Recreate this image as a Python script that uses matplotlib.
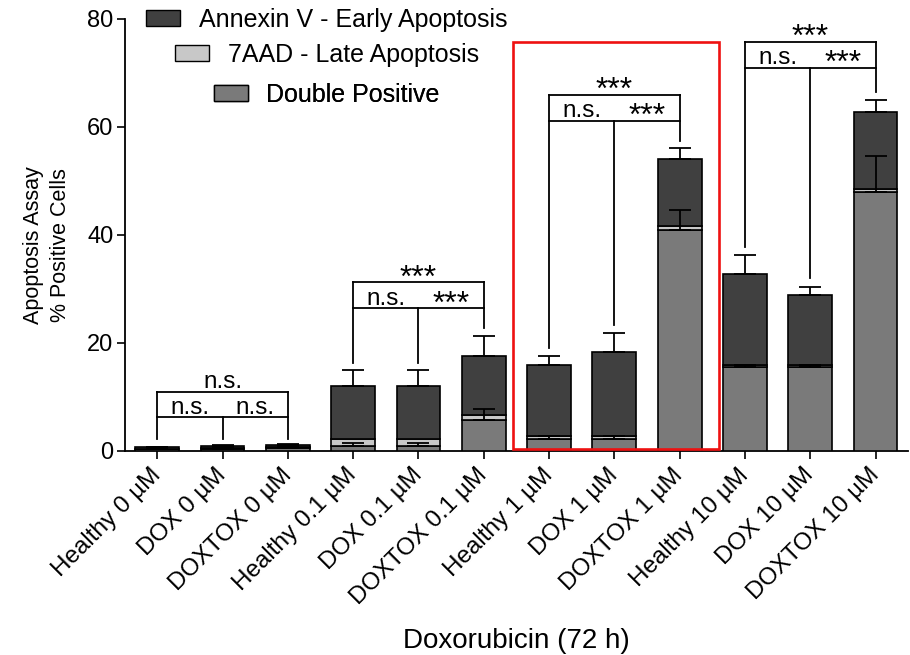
import numpy as np
import matplotlib
matplotlib.use("Agg")
import matplotlib.pyplot as plt
from matplotlib.patches import Patch, Rectangle

plt.rcParams['font.family'] = ['Liberation Sans', 'DejaVu Sans']

# 数据
labels = ["Healthy 0 µM", "DOX 0 µM", "DOXTOX 0 µM",
          "Healthy 0.1 µM", "DOX 0.1 µM", "DOXTOX 0.1 µM",
          "Healthy 1 µM", "DOX 1 µM", "DOXTOX 1 µM",
          "Healthy 10 µM", "DOX 10 µM", "DOXTOX 10 µM"]
double_pos = [0.3, 0.4, 0.5, 0.9, 0.9, 5.7, 2.2, 2.2, 41.0, 15.5, 15.5, 48.0]
late_7aad = [0.1, 0.2, 0.3, 1.3, 1.3, 1.0, 0.6, 0.6, 0.7, 0.4, 0.4, 0.5]
early_annexin = [0.3, 0.3, 0.3, 9.8, 9.8, 10.8, 13.1, 15.6, 12.3, 16.9, 12.9, 14.2]
total_err = [0.1, 0.2, 0.2, 3.0, 3.0, 3.7, 1.6, 3.5, 2.2, 3.5, 1.6, 2.3]
dp_err = [0.1, 0.3, 0.3, 0.6, 0.6, 2.0, 0.6, 0.6, 3.6, 0.5, 0.5, 6.6]

# 显著性括号: 每组三根柱子
bracket_start = [0, 3, 6, 9]
bracket_outer = [11.0, 31.2, 66.0, 75.8]
bracket_inner = [6.2, 26.4, 61.2, 71.0]
bracket_drops = [[2.2, 2.2, 2.2], [16.2, 16.2, 22.7], [19.1, 23.3, 57.4], [37.8, 32.0, 66.5]]
bracket_top_txt = ["n.s.", "***", "***", "***"]
bracket_left_txt = ["n.s.", "n.s.", "n.s.", "n.s."]
bracket_right_txt = ["n.s.", "***", "***", "***"]

c_dark = '#404040'
c_light = '#c8c8c8'
c_mid = '#7a7a7a'

fig = plt.figure(figsize=(9.1, 6.55), dpi=100)
ax = fig.add_axes([0.137, 0.3115, 0.861, 0.6595])

x = np.arange(len(labels))
dp = np.array(double_pos)
la = np.array(late_7aad)
ea = np.array(early_annexin)
w = 0.67
kw = dict(width=w, edgecolor='black', linewidth=1.2, zorder=3)
ax.bar(x, dp, color=c_mid, **kw)
ax.bar(x, la, bottom=dp, color=c_light, **kw)
ax.bar(x, ea, bottom=dp + la, color=c_dark, **kw)

tot = dp + la + ea
z = np.zeros(len(x))
ax.errorbar(x, tot, yerr=[z, total_err], fmt='none', ecolor='black',
            elinewidth=1.3, capsize=8, capthick=1.3, zorder=4)
ax.errorbar(x, dp, yerr=[z, dp_err], fmt='none', ecolor='black',
            elinewidth=1.3, capsize=8, capthick=1.3, zorder=4)

# 画括号和显著性标记
def mark(xx, t, line, above):
    # n.s. 放在线上方, *** 用大号字(星号字形偏高, 基线放在线下)
    if t == "***":
        ax.text(xx, line - 0.8, t, ha='center', va='baseline', fontsize=23)
    else:
        ax.text(xx, line + above, t, ha='center', va='baseline', fontsize=17.5)

for i0, yo, yi, dr, tt, lt, rt in zip(bracket_start, bracket_outer, bracket_inner,
                                      bracket_drops, bracket_top_txt,
                                      bracket_left_txt, bracket_right_txt):
    a, b, c = i0, i0 + 1, i0 + 2
    lk = dict(color='black', lw=1.3, zorder=2)
    ax.plot([a, c], [yo, yo], **lk)
    ax.plot([a, c], [yi, yi], **lk)
    ax.plot([a, a], [yo, dr[0]], **lk)
    ax.plot([c, c], [yo, dr[2]], **lk)
    ax.plot([b, b], [yi, dr[1]], **lk)
    mark(b, tt, yo, 0.7)
    mark((a + b) / 2, lt, yi, 0.6)
    mark((b + c) / 2, rt, yi, 0.6)

# 红框
ax.add_patch(Rectangle((5.44, 0.35), 3.17, 75.35, fill=False, edgecolor='#ee1111',
                       linewidth=1.9, zorder=5, clip_on=False))

ax.set_xlim(-0.5, 11.5)
ax.set_ylim(0, 80)
ax.set_yticks([0, 20, 40, 60, 80])
ax.set_xticks(x)
ax.set_xticklabels(labels, rotation=45, ha='right', va='center',
                   rotation_mode='anchor', fontsize=17.5)
ax.tick_params(axis='y', labelsize=17, length=6, width=1.2, pad=2)
ax.tick_params(axis='x', length=6, width=1.2, pad=9)
for s in ['top', 'right']:
    ax.spines[s].set_visible(False)
for s in ['left', 'bottom']:
    ax.spines[s].set_linewidth(1.3)

ax.set_ylabel("Apoptosis Assay\n% Positive Cells", fontsize=15.5, linespacing=1.4)
ax.yaxis.set_label_coords(-0.068, 0.477)
ax.set_xlabel("Doxorubicin (72 h)", fontsize=20)
ax.xaxis.set_label_coords(0.5, -0.41)

# 图例(三行居中)
leg_txt = ["Annexin V - Early Apoptosis", "7AAD - Late Apoptosis", "Double Positive"]
leg_col = [c_dark, c_light, c_mid]
leg_y = [0.998, 0.917, 0.824]
for t, cl, yy in zip(leg_txt, leg_col, leg_y):
    lg = ax.legend(handles=[Patch(facecolor=cl, edgecolor='black', linewidth=1.0, label=t)],
                   loc='center', bbox_to_anchor=(0.258, yy), frameon=False,
                   fontsize=18, handlelength=1.35, handleheight=0.6, handletextpad=0.75,
                   borderpad=0)
    ax.add_artist(lg)

fig.savefig("out.png", dpi=100)
